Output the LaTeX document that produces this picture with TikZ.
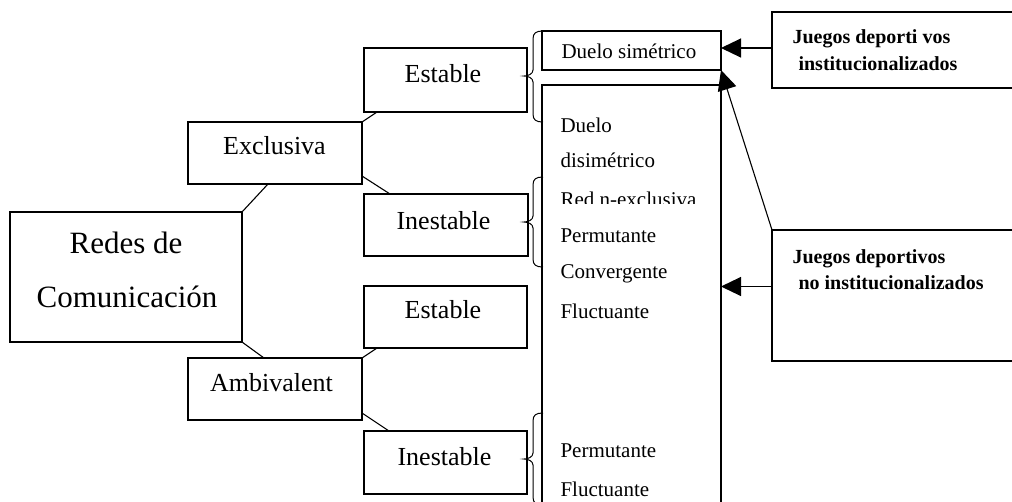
\documentclass[tikz,border=0pt]{standalone}
\usepackage{fontspec}
\setmainfont{Liberation Serif}
\usetikzlibrary{arrows.meta}
\begin{document}
\begin{tikzpicture}[x=1pt,y=-1pt,line width=1.1pt,
  box/.style={draw,inner sep=0pt,outer sep=0pt},
  lbl/.style={anchor=base,inner sep=0pt,font=\fontsize{26}{30}\selectfont},
  big/.style={anchor=base,inner sep=0pt,font=\fontsize{31}{36}\selectfont},
  item/.style={anchor=base west,inner sep=0pt,font=\fontsize{21}{25}\selectfont},
  jb/.style={anchor=base west,inner sep=0pt,font=\bfseries\fontsize{20}{24}\selectfont},
  arr/.style={-{Triangle[length=20pt,width=19pt]}},
  brc/.style={line width=1pt}]
\clip (0,0) rectangle (1012,501);
\fill[white] (0,0) rectangle (1012,501);
% boxes
\node[box,minimum width=232pt,minimum height=130pt] (redes) at (126,277) {};
\node[box,minimum width=174pt,minimum height=62pt] (excl) at (275,153) {};
\node[box,minimum width=174pt,minimum height=62pt] (amb) at (275,389) {};
\node[box,minimum width=163pt,minimum height=64pt] (est1) at (445.5,80) {};
\node[box,minimum width=164pt,minimum height=62pt] (ine1) at (446,225) {};
\node[box,minimum width=163pt,minimum height=62pt] (est2) at (445.5,317) {};
\node[box,minimum width=163pt,minimum height=63pt] (ine2) at (445.5,462.5) {};
\node[box,minimum width=179pt,minimum height=39pt] (duelo) at (631.5,50.5) {};
\node[box,minimum width=179pt,minimum height=435pt] (list) at (631.5,302.5) {};
\node[box,minimum width=258pt,minimum height=76pt] (j1) at (901,50) {};
\node[box,minimum width=258pt,minimum height=131pt] (j2) at (901,295.5) {};
% labels
\node[big] (t1) at (126,253) {Redes de};
\node[big] (t2) at (127,307) {Comunicación};
\node[lbl] (t3) at (274.5,154) {Exclusiva};
\node[lbl] (t4) at (271.5,391) {Ambivalent};
\node[lbl] (t5) at (443,82) {Estable};
\node[lbl] (t6) at (443.5,229) {Inestable};
\node[lbl] (t7) at (443,318) {Estable};
\node[lbl] (t8) at (444.5,465) {Inestable};
\node[item] (d0) at (561,58) {Duelo simétrico};
\node[item] (d1) at (560,132) {Duelo};
\node[item] (d2) at (560,167) {disimétrico};
\begin{scope}
\clip (545,180) rectangle (715,203);
\node[item] (d3) at (560,206) {Red n-exclusiva};
\end{scope}
\node[item] (d4) at (560,242) {Permutante};
\node[item] (d5) at (560,278) {Convergente};
\node[item] (d6) at (560,318) {Fluctuante};
\node[item] (d7) at (560,457) {Permutante};
\node[item] (d8) at (560,496) {Fluctuante};
\node[jb] (j1a) at (792,43) {Juegos deporti vos};
\node[jb] (j1b) at (798,70) {institucionalizados};
\node[jb] (j2a) at (792,263) {Juegos deportivos};
\node[jb] (j2b) at (798,289) {no institucionalizados};
% connectors
\draw (redes.north east) -- ([xshift=80pt]excl.south west);
\draw (redes.south east) -- ([xshift=76pt]amb.north west);
\draw (excl.north east) -- ([xshift=13pt]est1.south west);
\draw ([yshift=8pt]excl.south east) -- ([xshift=26pt]ine1.north west);
\draw (amb.north east) -- ([xshift=13pt]est2.south west);
\draw ([yshift=7pt]amb.south east) -- ([xshift=25pt]ine2.north west);
% arrows
\draw[arr] ([yshift=2pt]j1.west) -- ([yshift=2pt]j1.west -| duelo.east);
\draw[arr] ([yshift=9pt]j2.west) -- ([yshift=9pt]j2.west -| list.east);
\draw[arr] (j2.north west) -- (duelo.south east);
% braces
\draw[brc] (543,31) .. controls (536,31) and (533,33) .. (533,39) -- (533,70) .. controls (533,74) and (528,76) .. (524,76) .. controls (528,76) and (533,78) .. (533,82) -- (533,114) .. controls (533,120) and (536,122) .. (543,122);
\draw[brc] (543,177) .. controls (536,177) and (533,179) .. (533,185) -- (533,216) .. controls (533,220) and (528,222) .. (524,222) .. controls (528,222) and (533,224) .. (533,228) -- (533,259) .. controls (533,265) and (536,267) .. (543,267);
\draw[brc] (543,413) .. controls (536,413) and (533,415) .. (533,421) -- (533,453) .. controls (533,457) and (528,459) .. (524,459) .. controls (528,459) and (533,461) .. (533,465) -- (533,497) .. controls (533,503) and (536,505) .. (543,505);
\end{tikzpicture}
\end{document}
